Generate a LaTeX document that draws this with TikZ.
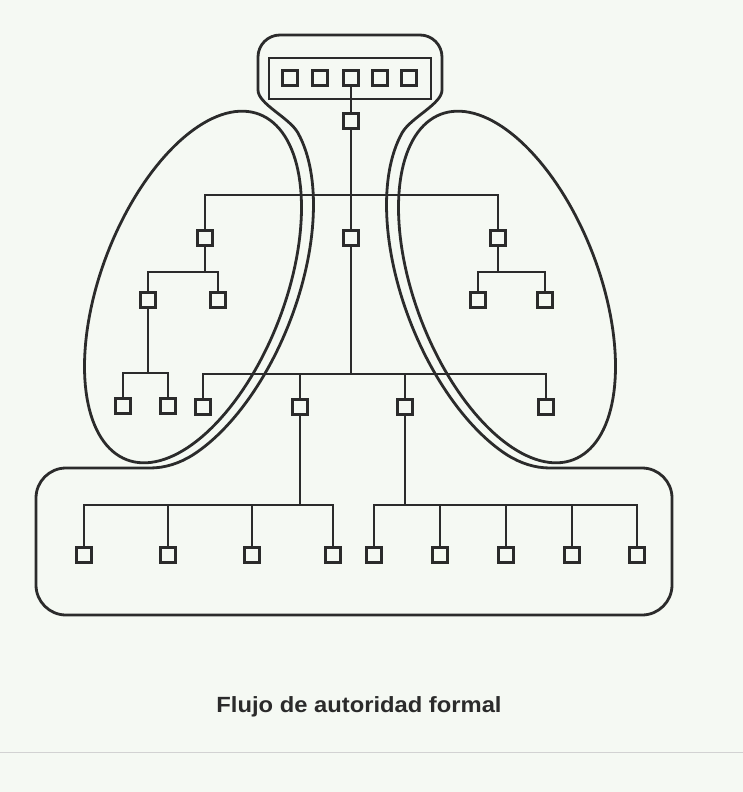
\documentclass[tikz,border=0pt]{standalone}
\usepackage{fontspec}
\setmainfont{Liberation Sans}
\definecolor{bg}{HTML}{F5F9F3}
\definecolor{ink}{HTML}{2B2B2B}
\begin{document}
\begin{tikzpicture}[x=1pt,y=-1pt,
  declare function={
    nn(\t)=10*sqrt((9.2*cos(\t))^2+(18.5*sin(\t))^2);
    dd(\t)=9+4*(\t+145)/125;
    uu(\t)=185*cos(\t)+dd(\t)*92*cos(\t)/nn(\t);
    vv(\t)=92*sin(\t)+dd(\t)*185*sin(\t)/nn(\t);
  }]
\tikzset{
  sq/.style={draw=ink, line width=2.1pt, fill=bg, minimum size=15pt, inner sep=0pt},
  wire/.style={draw=ink, line width=2.4pt},
  hull/.style={draw=ink, line width=2.8pt, line join=round},
}
\fill[bg] (0,0) rectangle (743,792);
\useasboundingbox (0,0) rectangle (743,792);
\draw[gray!35, line width=1pt] (0,752) -- (743,752);

% outer contour
\draw[hull] (350,35) -- (280,35) .. controls (267.85,35) and (258,44.85) .. (258,57)
  -- (258,90) .. controls (258,104) and (288.9,117.2) .. (297.9,132.8)
  -- plot[domain=-22:-145, samples=60, variable=\t]
     ({193 + uu(\t)*0.3584 - vv(\t)*0.9336}, {287 - uu(\t)*0.9336 - vv(\t)*0.3584})
  .. controls (179.3,463.4) and (165,468) .. (150,468)
  -- (66,468) .. controls (49.43,468) and (36,481.43) .. (36,498)
  -- (36,585) .. controls (36,601.57) and (49.43,615) .. (66,615)
  -- (642,615) .. controls (658.57,615) and (672,601.57) .. (672,585)
  -- (672,498) .. controls (672,481.43) and (658.57,468) .. (642,468)
  -- (550,468) .. controls (535,468) and (520.7,463.4) .. (507.1,454.9)
  -- plot[domain=-145:-22, samples=60, variable=\t]
     ({507 - uu(\t)*0.3584 + vv(\t)*0.9336}, {287 - uu(\t)*0.9336 - vv(\t)*0.3584})
  .. controls (411.1,117.2) and (442,104) .. (442,90)
  -- (442,57) .. controls (442,44.85) and (432.15,35) .. (420,35) -- cycle;

% ellipses
\draw[hull] plot[domain=0:360, samples=145, variable=\t]
  ({193 + 66.30*cos(\t) - 85.89*sin(\t)}, {287 - 172.72*cos(\t) - 32.97*sin(\t)}) -- cycle;
\draw[hull] plot[domain=0:360, samples=145, variable=\t]
  ({507 - 66.30*cos(\t) + 85.89*sin(\t)}, {287 - 172.72*cos(\t) - 32.97*sin(\t)}) -- cycle;

% top inner box
\draw[ink, line width=2.4pt] (269,58) rectangle (431,99);

% nodes
\node[sq] (t1) at (290,78) {};
\node[sq] (t2) at (320,78) {};
\node[sq] (t3) at (351,78) {};
\node[sq] (t4) at (380,78) {};
\node[sq] (t5) at (409,78) {};
\node[sq] (n0) at (351,121) {};
\node[sq] (c1) at (351,238) {};
\node[sq] (l1) at (205,238) {};
\node[sq] (r1) at (498,238) {};
\node[sq] (l2a) at (148,300) {};
\node[sq] (l2b) at (218,300) {};
\node[sq] (r2a) at (478,300) {};
\node[sq] (r2b) at (545,300) {};
\node[sq] (l3a) at (123,406) {};
\node[sq] (l3b) at (168,406) {};
\node[sq] (m1) at (203,407) {};
\node[sq] (m2) at (300,407) {};
\node[sq] (m3) at (405,407) {};
\node[sq] (m4) at (546,407) {};
\node[sq] (b1) at (84,555) {};
\node[sq] (b2) at (168,555) {};
\node[sq] (b3) at (252,555) {};
\node[sq] (b4) at (333,555) {};
\node[sq] (b5) at (374,555) {};
\node[sq] (b6) at (440,555) {};
\node[sq] (b7) at (506,555) {};
\node[sq] (b8) at (572,555) {};
\node[sq] (b9) at (637,555) {};

\coordinate (ub) at (351,195);
\coordinate (sb) at (0,272);
\coordinate (l3bar) at (0,373);
\coordinate (mb) at (351,374);
\coordinate (bb) at (0,505);

% connectors
\draw[wire] (t3) -- (n0);
\draw[wire] (n0) -- (c1);
\draw[wire] (c1) -- (c1 |- mb);
\draw[wire] (l1) -- (l1 |- ub) -- (r1 |- ub) -- (r1);
\draw[wire] (l1) -- (l1 |- sb);
\draw[wire] (l2a) -- (l2a |- sb) -- (l2b |- sb) -- (l2b);
\draw[wire] (r1) -- (r1 |- sb);
\draw[wire] (r2a) -- (r2a |- sb) -- (r2b |- sb) -- (r2b);
\draw[wire] (l2a) -- (l2a |- l3bar);
\draw[wire] (l3a) -- (l3a |- l3bar) -- (l3b |- l3bar) -- (l3b);
\draw[wire] (m1) -- (m1 |- mb) -- (m4 |- mb) -- (m4);
\draw[wire] (m2) -- (m2 |- mb);
\draw[wire] (m3) -- (m3 |- mb);
\draw[wire] (m2) -- (m2 |- bb);
\draw[wire] (b1) -- (b1 |- bb) -- (b4 |- bb) -- (b4);
\draw[wire] (b2) -- (b2 |- bb);
\draw[wire] (b3) -- (b3 |- bb);
\draw[wire] (m3) -- (m3 |- bb);
\draw[wire] (b5) -- (b5 |- bb) -- (b9 |- bb) -- (b9);
\draw[wire] (b6) -- (b6 |- bb);
\draw[wire] (b7) -- (b7 |- bb);
\draw[wire] (b8) -- (b8 |- bb);

% caption
\node[font=\fontsize{22}{26}\selectfont\bfseries, text=ink, anchor=base, xscale=1.08, inner sep=0pt] (cap) at (359,712) {Flujo de autoridad formal};
\end{tikzpicture}
\end{document}
